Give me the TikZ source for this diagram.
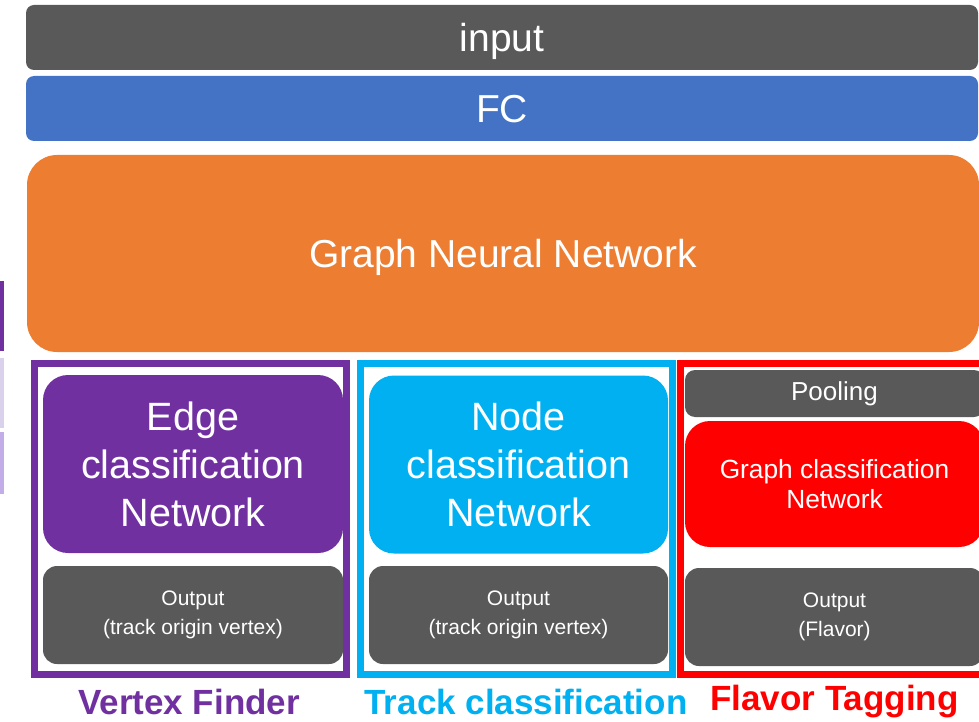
\documentclass[tikz,border=0pt]{standalone}
\usepackage{fontspec}
\setmainfont{Liberation Sans}
\definecolor{cgray}{HTML}{595959}
\definecolor{cblue}{HTML}{4472C4}
\definecolor{corange}{HTML}{ED7D31}
\definecolor{cpurple}{HTML}{7030A0}
\definecolor{ccyan}{HTML}{00B0F0}
\definecolor{cred}{HTML}{FF0000}
\definecolor{clav}{HTML}{DAD2EC}
\definecolor{clav2}{HTML}{C2ADE8}
\tikzset{
  blk/.style={inner sep=0pt, outer sep=0pt, text=white, align=center},
  bar/.style={blk, minimum width=952pt, minimum height=65pt, rounded corners=8pt, font=\fontsize{39}{43}\selectfont, text depth=0pt},
  bignet/.style={blk, minimum width=300pt, minimum height=178pt, rounded corners=25pt, font=\fontsize{39.5}{48}\selectfont},
  outbox/.style={blk, fill=cgray, minimum width=300pt, minimum height=98pt, rounded corners=14pt, font=\fontsize{21}{28.5}\selectfont},
  frame/.style={draw, line width=7pt, minimum height=311pt, inner sep=0pt, outer sep=0pt},
  caption/.style={font=\fontsize{35}{38}\selectfont\bfseries, inner sep=0pt}
}
\begin{document}
\begin{tikzpicture}[x=1pt,y=-1pt]
\useasboundingbox (0,0) rectangle (979,722);
\begin{scope}
\clip (0,0) rectangle (979,722);
% left edge bars
\fill[cpurple] (0,281) rectangle (4,351);
\fill[clav] (0,358) rectangle (4,428);
\fill[clav2] (0,432) rectangle (4,494);

\node[bar, fill=cgray] (input) at (502,37.5) {input};
\node[bar, fill=cblue] (fc) at (502,108.5) {FC};
\node[blk, fill=corange, minimum width=952pt, minimum height=197pt, rounded corners=30pt, font=\fontsize{39}{43}\selectfont, text depth=0pt] (gnn) at (503,253.5) {Graph Neural Network};

% frames
\node[frame, draw=cpurple, minimum width=311.5pt] (vfframe) at (190.25,519) {};
\node[frame, draw=ccyan, minimum width=312pt] (tcframe) at (516.5,519) {};
\node[frame, draw=cred, minimum width=312pt] (ftframe) at (836.5,519) {};

% vertex finder
\node[bignet, fill=cpurple] (edge) at (193,464) {Edge\\classification\\Network};
\node[outbox] (vfout) at (193,615) {Output\\(track origin vertex)};

% track classification
\node[bignet, fill=ccyan, minimum width=299pt] (nodenet) at (518.5,464.5) {Node\\classification\\Network};
\node[outbox, minimum width=299pt] (tcout) at (518.5,615) {Output\\(track origin vertex)};

% flavor tagging
\node[blk, fill=cgray, minimum width=299pt, minimum height=47pt, rounded corners=10pt, font=\fontsize{26}{30}\selectfont] (pool) at (834.5,393.5) {Pooling};
\node[blk, fill=cred, minimum width=299pt, minimum height=126pt, rounded corners=25pt, font=\fontsize{26.3}{30}\selectfont] (graphnet) at (834.5,484) {Graph classification\\Network};
\node[outbox, minimum width=299pt] (ftout) at (834.5,617) {Output\\(Flavor)};
\end{scope}

% captions
\node[caption, text=cpurple] (vflabel) at (189,702) {Vertex Finder};
\node[caption, text=ccyan] (tclabel) at (526,702) {Track classification};
\node[caption, text=cred] (ftlabel) at (834.5,702) {Flavor Tagging};
\end{tikzpicture}
\end{document}
